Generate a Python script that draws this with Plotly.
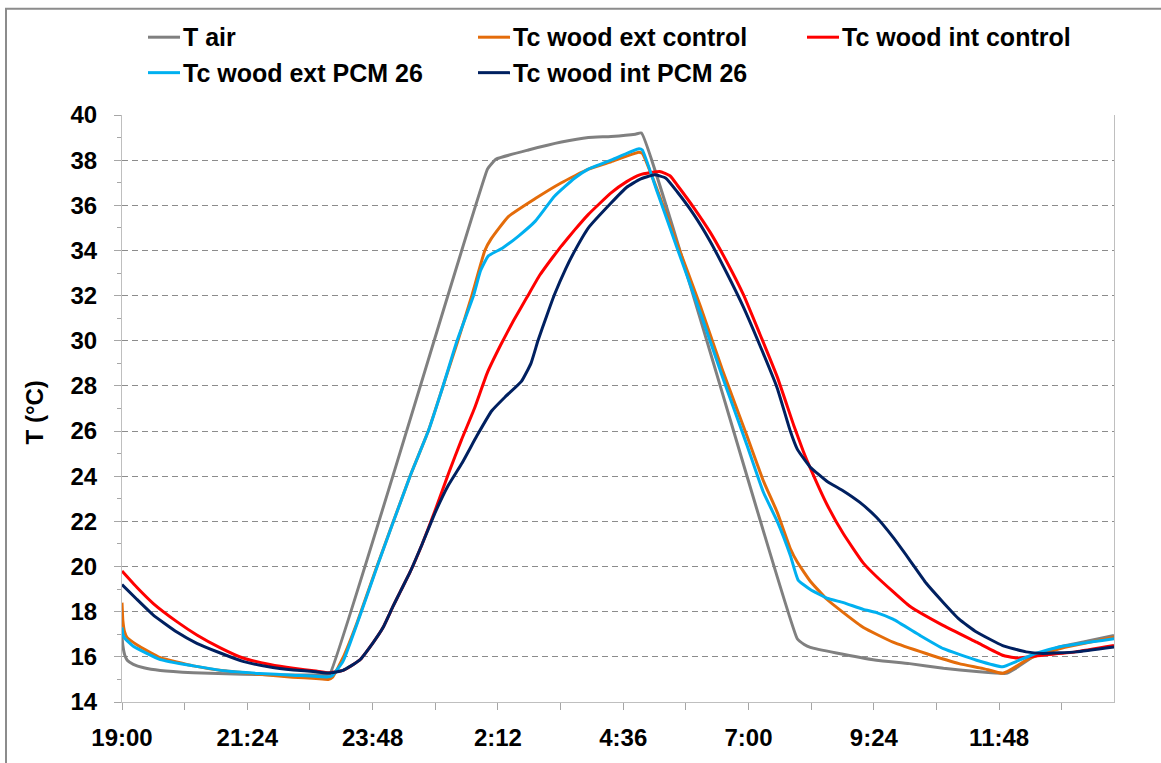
import plotly.graph_objects as go

# ---------------- data (minutes after 19:00, temperature in °C) ----------------
air_t = [0, 1, 3, 6, 13, 25, 44, 82, 139, 177, 215, 235, 239, 420, 425, 430, 467, 505, 536, 562, 590, 597,
         776, 784, 791, 821, 867, 905, 944, 982, 1016, 1027, 1050, 1077, 1110, 1140]
air_v = [16.9, 16.5, 16.1, 15.85, 15.67, 15.52, 15.4, 15.3, 15.23, 15.2, 15.2, 15.22, 15.25, 37.6, 37.85, 38.05,
         38.45, 38.8, 39.0, 39.05, 39.15, 39.2, 16.8, 16.55, 16.42, 16.17, 15.85, 15.7, 15.49, 15.35, 15.27,
         15.49, 16.07, 16.44, 16.7, 16.95]

ext_ctrl_t = [0, 1, 3, 6, 17, 44, 82, 120, 158, 196, 223, 237, 242, 254, 270, 292, 331, 352, 369, 386, 402,
              417, 424, 444, 475, 505, 536, 562, 594, 598, 615, 638, 665, 691, 718, 737, 753, 768, 776, 791,
              810, 829, 852, 886, 924, 962, 989, 1012, 1020, 1043, 1077, 1140]
ext_ctrl_v = [18.4, 17.6, 17.1, 16.85, 16.54, 15.96, 15.6, 15.37, 15.23, 15.1, 15.04, 15.0, 15.1, 15.96, 17.5,
              19.9, 24.0, 26.0, 28.0, 30.0, 32.0, 34.0, 34.5, 35.5, 36.3, 37.0, 37.6, 37.93, 38.35, 38.3, 36.7,
              34.3, 31.5, 28.6, 25.8, 23.8, 22.4, 20.8, 20.2, 19.35, 18.55, 17.96, 17.3, 16.65, 16.15, 15.7,
              15.49, 15.27, 15.4, 15.93, 16.36, 16.87]

int_ctrl_t = [0, 17, 36, 63, 86, 113, 139, 170, 197, 223, 238, 254, 273, 288, 300, 311, 320, 331, 345, 360,
              375, 390, 405, 420, 435, 450, 465, 480, 495, 505, 520, 536, 562, 580, 595, 608, 618, 630, 638,
              657, 676, 695, 714, 733, 753, 772, 783, 791, 810, 829, 852, 867, 905, 944, 982, 1012, 1027,
              1058, 1096, 1140]
int_ctrl_v = [19.8, 19.08, 18.36, 17.56, 16.97, 16.4, 15.95, 15.66, 15.49, 15.37, 15.3, 15.4, 15.85, 16.6,
              17.3, 18.2, 18.9, 19.75, 21.0, 22.5, 24.1, 25.6, 27.0, 28.6, 29.8, 30.9, 31.9, 32.9, 33.7, 34.2,
              34.9, 35.6, 36.55, 37.05, 37.35, 37.45, 37.5, 37.3, 36.9, 35.9, 34.8, 33.5, 32.05, 30.3, 28.4,
              26.25, 25.1, 24.36, 22.76, 21.45, 20.15, 19.56, 18.25, 17.38, 16.65, 16.07, 15.95, 16.07, 16.22,
              16.5]

ext_pcm_t = [0, 1, 3, 13, 44, 82, 120, 158, 196, 235, 241, 254, 296, 331, 352, 369, 385, 404, 412, 421, 437,
             456, 475, 497, 520, 536, 562, 594, 598, 615, 638, 665, 691, 718, 737, 753, 768, 777, 791, 810, 829,
             852, 867, 886, 917, 944, 982, 1012, 1027, 1050, 1077, 1140]
ext_pcm_v = [17.3, 17.0, 16.83, 16.47, 15.88, 15.6, 15.37, 15.26, 15.19, 15.11, 15.15, 15.8, 20.3, 24.0, 26.0,
             28.0, 30.0, 32.0, 33.1, 33.76, 34.1, 34.65, 35.3, 36.4, 37.2, 37.6, 38.0, 38.5, 38.45, 36.6, 34.1,
             31.2, 28.3, 25.4, 23.3, 22.0, 20.5, 19.4, 18.98, 18.6, 18.4, 18.1, 17.96, 17.67, 16.95, 16.36,
             15.85, 15.56, 15.78, 16.15, 16.44, 16.8]

int_pcm_t = [0, 17, 36, 63, 86, 113, 139, 170, 197, 223, 238, 254, 273, 288, 300, 311, 320, 331, 345, 360, 375,
             391, 408, 425, 440, 459, 470, 478, 488, 497, 510, 520, 536, 562, 580, 595, 612, 625, 638, 657, 676,
             695, 714, 733, 753, 768, 776, 785, 791, 810, 829, 848, 867, 886, 905, 924, 944, 962, 982, 1012,
             1039, 1058, 1096, 1140]
int_pcm_v = [19.2, 18.55, 17.85, 17.1, 16.6, 16.17, 15.8, 15.55, 15.42, 15.34, 15.28, 15.4, 15.85, 16.6, 17.3,
             18.2, 18.9, 19.75, 21.0, 22.4, 23.6, 24.6, 25.8, 26.9, 27.5, 28.2, 29.0, 30.0, 31.1, 32.05, 33.2,
             33.96, 35.0, 36.1, 36.8, 37.15, 37.35, 37.2, 36.6, 35.6, 34.4, 33.0, 31.5, 29.8, 27.9, 26.0, 25.2,
             24.7, 24.4, 23.78, 23.35, 22.84, 22.18, 21.3, 20.3, 19.27, 18.4, 17.67, 17.1, 16.5, 16.22, 16.15,
             16.22, 16.44]

series_names = ["T air", "Tc wood ext control", "Tc wood int control", "Tc wood ext PCM 26", "Tc wood int PCM 26"]
series_colors = ["#808080", "#E46C0A", "#FF0000", "#00B0F0", "#002060"]
series_t = [air_t, ext_ctrl_t, int_ctrl_t, ext_pcm_t, int_pcm_t]
series_v = [air_v, ext_ctrl_v, int_ctrl_v, ext_pcm_v, int_pcm_v]

tick_minutes = [0, 72, 144, 216, 288, 360, 432, 504, 576, 648, 720, 792, 864, 936, 1008, 1080]
tick_labels = ["19:00", "", "21:24", "", "23:48", "", "2:12", "", "4:36", "", "7:00", "", "9:24", "", "11:48", ""]
y_ticks = [14, 16, 18, 20, 22, 24, 26, 28, 30, 32, 34, 36, 38, 40]
y_title = "T (°C)"

# ---------------- layout geometry ----------------
W, H = 1161, 763
ML, MR, MT, MB = 122, 47, 115, 52
PW, PH = W - ML - MR, H - MT - MB


def px_x(x):
    return (x - ML) / PW


def px_y(y):
    return (H - MB - y) / PH


FONT = "Liberation Sans, Arial, sans-serif"

fig = go.Figure()
for name, color, t, v in zip(series_names, series_colors, series_t, series_v):
    fig.add_trace(go.Scatter(x=t, y=v, mode="lines", name=name,
                             line=dict(color=color, width=3, shape="spline", smoothing=0.4),
                             showlegend=False))

shapes = []
annotations = []
# outer chart border
shapes.append(dict(type="rect", xref="paper", yref="paper", x0=px_x(6), x1=px_x(1175),
                   y0=px_y(780), y1=px_y(7), line=dict(color="#8C8C8C", width=2), layer="below"))

# manual legend (3 columns, 2 rows)
leg_cols = [148, 478, 807]
leg_rows = [36, 72]
for i, (name, color) in enumerate(zip(series_names, series_colors)):
    col = i % 3
    row = i // 3
    x0 = leg_cols[col]
    yy = px_y(leg_rows[row])
    shapes.append(dict(type="line", xref="paper", yref="paper", x0=px_x(x0), x1=px_x(x0 + 32),
                       y0=yy, y1=yy, line=dict(color=color, width=3)))
    annotations.append(dict(xref="paper", yref="paper", x=px_x(x0 + 33), y=yy, text=name,
                            showarrow=False, xanchor="left", yanchor="middle",
                            font=dict(family=FONT, size=25, color="black", weight="bold")))

annotations.append(dict(xref="paper", yref="paper", x=px_x(34), y=px_y(417), text=y_title, textangle=-90,
                        showarrow=False, xanchor="center", yanchor="middle",
                        font=dict(family=FONT, size=24, color="black", weight="bold")))

fig.update_layout(
    width=W, height=H,
    margin=dict(l=ML, r=MR, t=MT, b=MB, pad=0),
    paper_bgcolor="white", plot_bgcolor="white",
    shapes=shapes, annotations=annotations,
    showlegend=False,
)
fig.update_xaxes(range=[0, 1140], tickmode="array", tickvals=tick_minutes, ticktext=tick_labels,
                 showgrid=False, zeroline=False, showline=True, linecolor="#BFBFBF", linewidth=1,
                 ticks="outside", ticklen=7, tickcolor="#A6A6A6", tickwidth=1, ticklabelstandoff=7,
                 tickfont=dict(family=FONT, size=24, color="black", weight="bold"))
fig.update_yaxes(range=[14, 40], tickmode="array", tickvals=y_ticks,
                 showgrid=True, gridcolor="#8C8C8C", griddash="6px,4px", gridwidth=1,
                 zeroline=False, showline=True, linecolor="#BFBFBF", linewidth=1, mirror=True,
                 ticks="outside", ticklen=7, tickcolor="#A6A6A6", tickwidth=1, ticklabelstandoff=12,
                 minor=dict(dtick=2, tick0=15, ticks="outside", ticklen=4, tickcolor="#A6A6A6", showgrid=False),
                 tickfont=dict(family=FONT, size=24, color="black", weight="bold"))

fig.write_html("out.html")
